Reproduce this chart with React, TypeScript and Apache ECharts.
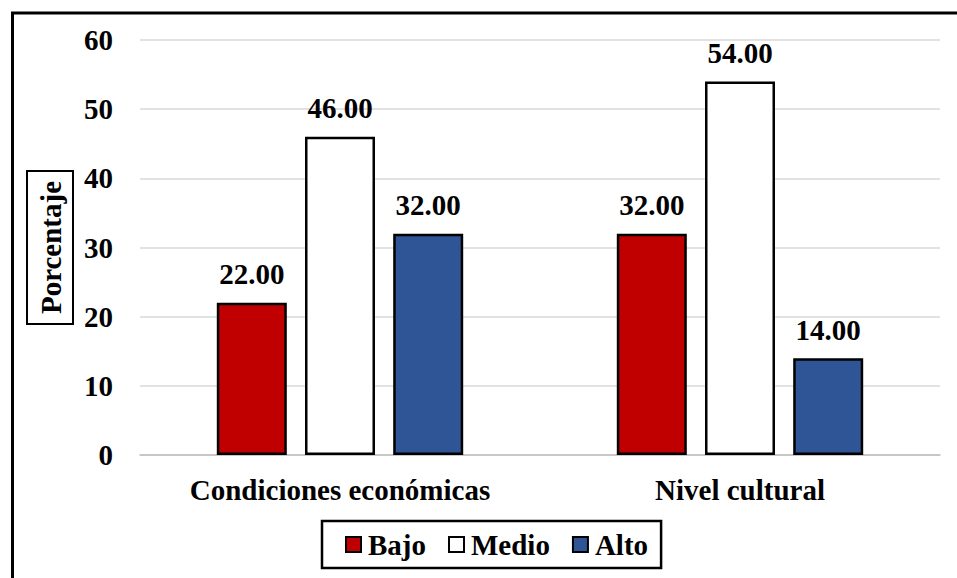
import React, { useEffect, useRef } from "react";
import * as echarts from "echarts";

const categories = ["Condiciones económicas", "Nivel cultural"];
const seriesNames = ["Bajo", "Medio", "Alto"];
const bajo = [22, 32];
const medio = [46, 54];
const alto = [32, 14];
const colors = ["#C00000", "#FFFFFF", "#2F5597"];

const FONT = "Liberation Serif";
const FS = 29;

export default function App() {
  const ref = useRef<HTMLDivElement>(null);
  useEffect(() => {
    if (!ref.current) return;
    const chart = echarts.init(ref.current, null, { renderer: "svg" });
    const values = [bajo, medio, alto];
    chart.setOption({
      animation: false,
      backgroundColor: "#fff",
      textStyle: { fontFamily: FONT, fontWeight: "bold", color: "#000" },
      grid: { left: 140, right: 17, top: 40, bottom: 123 },
      legend: {
        left: 322,
        top: 521,
        data: seriesNames,
        icon: "rect",
        itemWidth: 15,
        itemHeight: 15,
        itemGap: 22,
        borderColor: "#000",
        borderWidth: 2.5,
        borderRadius: 0,
        padding: [9, 13, 9, 23],
        textStyle: { fontFamily: FONT, fontWeight: "bold", fontSize: FS, color: "#000", padding: [0, 0, 0, 2] },
        itemStyle: { borderColor: "#000", borderWidth: 2 },
      },
      xAxis: {
        type: "category",
        data: categories,
        axisLine: { show: true, lineStyle: { color: "#bfbfbf", width: 1.5 } },
        axisTick: { show: false },
        axisLabel: { fontFamily: FONT, fontWeight: "bold", fontSize: FS, color: "#000", margin: 20 },
      },
      yAxis: {
        type: "value",
        min: 0,
        max: 60,
        interval: 10,
        name: "Porcentaje",
        nameLocation: "middle",
        nameRotate: 90,
        nameGap: 67,
        nameMoveOverlap: false,
        nameTextStyle: {
          fontFamily: FONT,
          fontWeight: "bold",
          fontSize: FS,
          color: "#000",
          borderColor: "#000",
          borderWidth: 2,
          padding: [9, 10, 8, 10],
        },
        axisLine: { show: false },
        axisTick: { show: false },
        splitLine: { lineStyle: { color: "#d9d9d9", width: 1.5 } },
        axisLabel: { fontFamily: FONT, fontWeight: "bold", fontSize: FS, color: "#000", margin: 27 },
      },
      series: seriesNames.map((name, i) => ({
        name,
        type: "bar",
        data: values[i],
        barWidth: 70,
        barGap: "26%",
        itemStyle: { color: colors[i], borderColor: "#000", borderWidth: 2.5 },
        label: {
          show: true,
          position: "top",
          distance: 14,
          formatter: (p: any) => Number(p.value).toFixed(2),
          fontFamily: FONT,
          fontWeight: "bold",
          fontSize: FS,
          color: "#000",
        },
      })),
      graphic: [
        {
          type: "rect",
          left: 10,
          top: 10.5,
          shape: { x: 0, y: 0, width: 1000, height: 700 },
          style: { fill: "none", stroke: "#000", lineWidth: 3 },
          silent: true,
          z: 100,
        },
      ],
    });
    return () => chart.dispose();
  }, []);
  return <div ref={ref} style={{ position: "fixed", left: 0, top: 0, width: 957, height: 578 }} />;
}
